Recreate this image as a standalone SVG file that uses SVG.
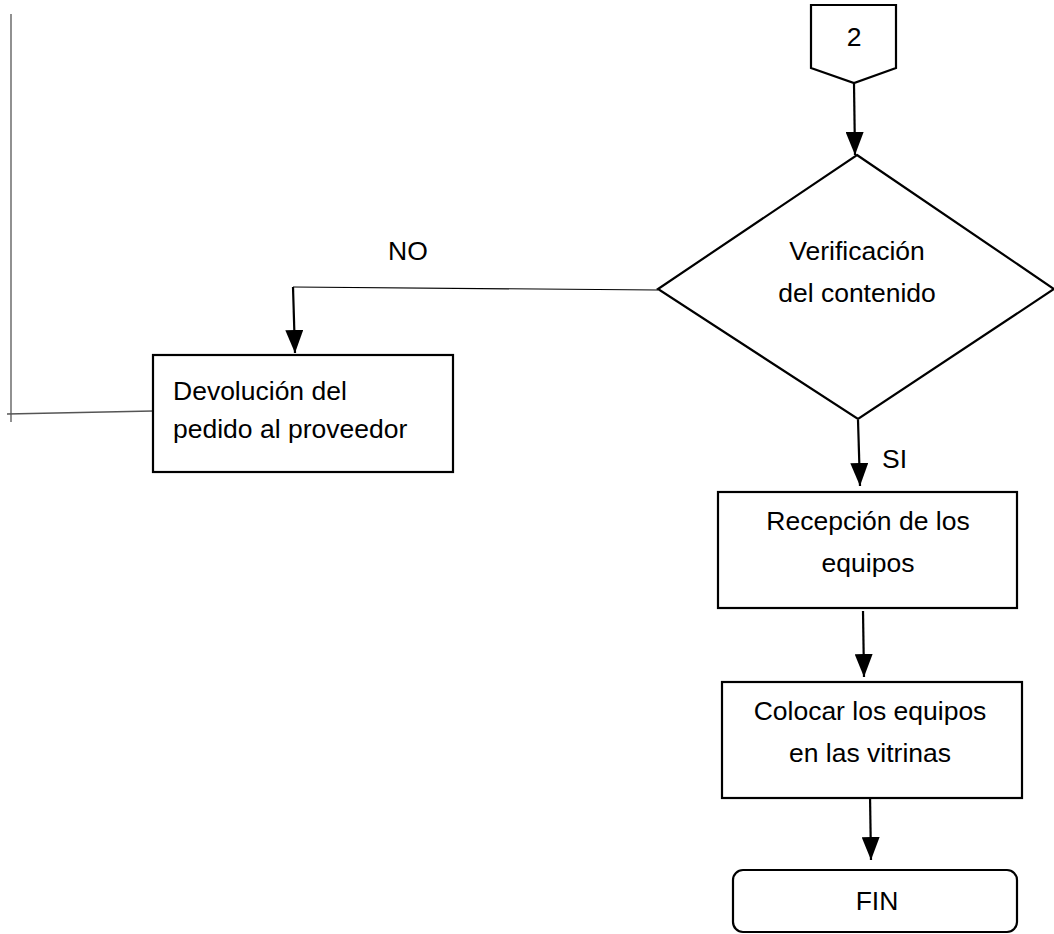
<svg xmlns="http://www.w3.org/2000/svg" width="1054" height="934" viewBox="0 0 1054 934">
  <style>
    .shape { fill: #ffffff; stroke: #000000; stroke-width: 2.2; }
    .label { font-family: "Liberation Sans", Arial, sans-serif; font-size: 26.5px; fill: #000000; }
    .mid { text-anchor: middle; }
    .flow { stroke: #000000; stroke-width: 2.2; fill: none; marker-end: url(#arrow); }
    .thin { stroke: #000000; stroke-width: 1.2; fill: none; }
    .guide { stroke: #555555; stroke-width: 1.3; fill: none; }
  </style>
  <defs>
    <marker id="arrow" viewBox="0 0 23 18" refX="23" refY="9" markerWidth="23" markerHeight="18" markerUnits="userSpaceOnUse" orient="auto">
      <path d="M0,0 L23,9 L0,18 z" fill="#000000"/>
    </marker>
  </defs>
  <rect width="1054" height="934" fill="#ffffff"/>

  <g id="connectors">
    <!-- off-page connector to decision -->
    <line class="flow" x1="854" y1="84" x2="855" y2="155"/>
    <!-- NO branch -->
    <polyline class="thin" points="658,290 293,287"/>
    <line class="flow" x1="293" y1="287" x2="295" y2="353"/>
    <!-- return loop on the left -->
    <line class="guide" x1="11" y1="14" x2="11" y2="422"/>
    <line class="guide" x1="7" y1="414" x2="153" y2="411"/>
    <!-- SI branch -->
    <line class="flow" x1="858" y1="420" x2="860" y2="486"/>
    <!-- reception to display -->
    <line class="flow" x1="863" y1="611" x2="864" y2="677"/>
    <!-- display to end -->
    <line class="flow" x1="870" y1="795" x2="871" y2="860"/>
  </g>

  <g id="offpage-2">
    <polygon class="shape" points="811,5 896,5 896,68 854,83 811,68"/>
    <text class="label mid" x="854" y="46">2</text>
  </g>

  <g id="decision">
    <polygon class="shape" points="857,155 1054,289 858,419 658,289"/>
    <text class="label mid" x="857" y="260">Verificación</text>
    <text class="label mid" x="857" y="302">del contenido</text>
  </g>

  <g id="label-no">
    <text class="label" x="388" y="260">NO</text>
  </g>

  <g id="label-si">
    <text class="label" x="882" y="468">SI</text>
  </g>

  <g id="devolucion">
    <rect class="shape" x="153" y="355" width="300" height="117"/>
    <text class="label" x="173" y="400">Devolución del</text>
    <text class="label" x="173" y="438">pedido al proveedor</text>
  </g>

  <g id="recepcion">
    <rect class="shape" x="718" y="492" width="299" height="116"/>
    <text class="label mid" x="868" y="530">Recepción de los</text>
    <text class="label mid" x="868" y="572">equipos</text>
  </g>

  <g id="colocar">
    <rect class="shape" x="722" y="682" width="300" height="116"/>
    <text class="label mid" x="870" y="720">Colocar los equipos</text>
    <text class="label mid" x="870" y="762">en las vitrinas</text>
  </g>

  <g id="fin">
    <rect class="shape" x="733" y="870" width="284" height="62" rx="10" ry="10"/>
    <text class="label mid" x="877" y="910">FIN</text>
  </g>
</svg>
